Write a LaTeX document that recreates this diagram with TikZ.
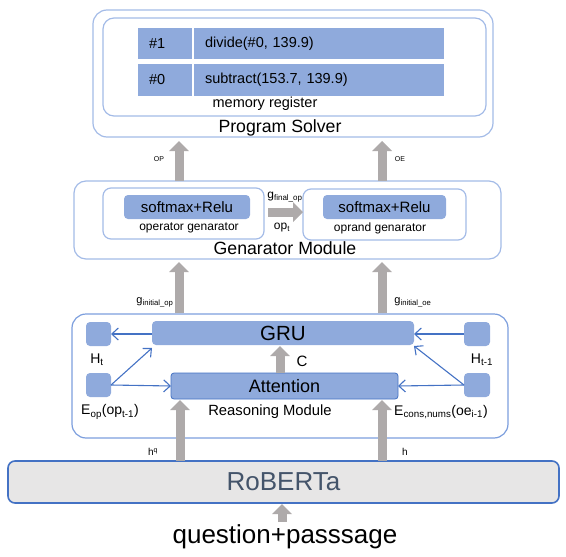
\documentclass[tikz,border=0pt]{standalone}
\usepackage{fontspec}
\setmainfont{Liberation Sans}
\usetikzlibrary{arrows.meta}
\definecolor{boxblue}{HTML}{8FAADC}
\definecolor{modline}{HTML}{A3BBE7}
\definecolor{reasline}{HTML}{7C9EDD}
\definecolor{arrowgray}{HTML}{AEAAAA}
\definecolor{arrowblue}{HTML}{4472C4}
\definecolor{robfill}{HTML}{E7E6E6}
\definecolor{robtext}{HTML}{44546A}
\tikzset{
  fs/.style={font=\fontsize{#1}{#1}\selectfont},
  module/.style={draw=modline, line width=1.2pt, rounded corners=12pt, inner sep=0pt, outer sep=0pt},
  cell/.style={fill=boxblue, inner sep=0pt, inner xsep=11pt, outer sep=0pt, minimum height=31pt, align=left, fs=14.5},
  bluebox/.style={fill=boxblue, rounded corners=4pt, inner sep=0pt, outer sep=0pt},
  garrow/.style={draw=arrowgray, line width=9pt, -{Triangle[length=10pt,width=20pt,line width=0pt]}},
  barrow/.style={draw=arrowblue, line width=1.1pt, -{Straight Barb[length=6.5pt,width=12pt]}},
  lbl/.style={inner sep=0pt, outer sep=0pt, text=black},
}
\begin{document}
\begin{tikzpicture}[x=1pt,y=-1pt]
\useasboundingbox (0,0) rectangle (566,557);
% Program Solver
\node[module, minimum width=400pt, minimum height=127pt, rounded corners=14pt] (ps) at (293,73.5) {};
\node[module, minimum width=383pt, minimum height=98pt, rounded corners=11pt] (mem) at (294.5,67) {};
\node[cell, text width=32pt] (c1a) at (165,43.5) {\#1};
\node[cell, text width=228pt] (c1b) at (319,43.5) {divide(\#0, 139.9)};
\node[cell, text width=32pt, minimum height=32pt] (c0a) at (165,80) {\#0};
\node[cell, text width=228pt, minimum height=32pt] (c0b) at (319,80) {subtract(153.7, 139.9)};
\node[lbl, fs=14.5] (memlbl) at (265,104) {memory register};
\node[lbl, fs=17.7] (pslbl) at (280,128) {Program Solver};
% Generator module
\node[module, minimum width=427pt, minimum height=78pt] (gen) at (287.5,220) {};
\node[module, minimum width=161pt, minimum height=51pt, rounded corners=8pt] (opg) at (183.5,213.5) {};
\node[bluebox, minimum width=126pt, minimum height=24pt, fs=15] (opsm) at (187,207) {softmax+Relu};
\node[lbl, fs=12] (opglbl) at (189,228) {operator genarator};
\node[module, minimum width=163pt, minimum height=51pt, rounded corners=8pt] (oeg) at (384.5,214.5) {};
\node[bluebox, minimum width=123pt, minimum height=24pt, fs=15] (oesm) at (384.5,207) {softmax+Relu};
\node[lbl, fs=12] (oeglbl) at (380,228) {oprand genarator};
\node[lbl, fs=17.7] (genlbl) at (285,248) {Genarator Module};
\draw[garrow] ([xshift=4pt]opg.east |- 0,212) -- (oeg.west |- 0,212);
\node[lbl, fs=12] (gfin) at (285,197) {g\textsubscript{final\_op}};
\node[lbl, fs=12] (opt) at (282,228) {op\textsubscript{t}};
% arrows to program solver
\draw[garrow] (179,0 |- gen.north) -- ([yshift=-4pt]179,0 |- ps.south);
\draw[garrow] (382,0 |- gen.north) -- ([yshift=-4pt]382,0 |- ps.south);
\node[lbl, fs=7] (oplbl) at (159,159) {OP};
\node[lbl, fs=7] (oelbl) at (400,159) {OE};
% Reasoning module
\node[draw=reasline, line width=1.2pt, rounded corners=14pt, inner sep=0pt, outer sep=0pt, minimum width=436pt, minimum height=124pt] (reas) at (290,376) {};
\node[bluebox, minimum width=262pt, minimum height=24pt, fs=20.5] (gru) at (283,333) {GRU};
\node[bluebox, draw=arrowblue, line width=0.8pt, rounded corners=3pt, minimum width=227pt, minimum height=26pt, fs=18] (att) at (284.5,386) {Attention};
\node[bluebox, minimum width=25pt, minimum height=24pt] (ht) at (98.5,334) {};
\node[bluebox, minimum width=25pt, minimum height=24pt] (eop) at (98.5,385) {};
\node[bluebox, minimum width=26pt, minimum height=24pt] (htm) at (477,334) {};
\node[bluebox, minimum width=26pt, minimum height=24pt] (econs) at (477,385) {};
\node[lbl, fs=14] (htlbl) at (97,360) {H\textsubscript{t}};
\node[lbl, fs=14] (htmlbl) at (482,360) {H\textsubscript{t-1}};
\node[lbl, fs=14] (eoplbl) at (110,412) {E\textsubscript{op}(op\textsubscript{t-1})};
\node[lbl, fs=14] (econslbl) at (441,412) {E\textsubscript{cons,nums}(oe\textsubscript{i-1})};
\node[lbl, fs=14.8] (reaslbl) at (270,412) {Reasoning Module};
\node[lbl, fs=15] (clbl) at (302,361) {C};
\draw[barrow] (gru.west |- ht.east) -- (ht.east);
\draw[barrow] (eop.east) -- ([yshift=-3pt]gru.south west);
\draw[barrow] (eop.east) -- (att.west);
\draw[barrow] (htm.west) -- (gru.east |- htm.west);
\draw[barrow] (econs.west) -- ([yshift=-1pt]gru.south east);
\draw[barrow] (econs.west) -- (att.east);
\draw[garrow] (280,0 |- att.north) -- ([yshift=-1pt]280,0 |- gru.south);
% arrows to generator
\draw[garrow] ([yshift=1pt]179,0 |- reas.north) -- ([yshift=-3pt]179,0 |- gen.south);
\draw[garrow] ([yshift=1pt]382,0 |- reas.north) -- ([yshift=-3pt]382,0 |- gen.south);
\node[lbl, fs=11] (gio) at (155,302) {g\textsubscript{initial\_op}};
\node[lbl, fs=11] (gie) at (413,302) {g\textsubscript{initial\_oe}};
% RoBERTa
\node[draw=arrowblue, fill=robfill, line width=1.6pt, rounded corners=7pt, inner sep=0pt, outer sep=0pt, minimum width=551pt, minimum height=42pt, text=robtext, fs=26] (rob) at (283.5,482) {RoBERTa};
\draw[garrow] (180,0 |- rob.north) -- ([yshift=-1pt]180,0 |- att.south);
\draw[garrow] (382,0 |- rob.north) -- ([yshift=-1pt]382,0 |- att.south);
\node[lbl, fs=10] (hq) at (153,452) {h\textsuperscript{q}};
\node[lbl, fs=10] (hlbl) at (405,452) {h};
% input
\node[lbl, fs=26] (inp) at (285,537) {question+passsage};
\coordinate (inpTop) at (282,522);
\draw[garrow] (inpTop) -- ([yshift=-1pt]inpTop |- rob.south);
\end{tikzpicture}
\end{document}
